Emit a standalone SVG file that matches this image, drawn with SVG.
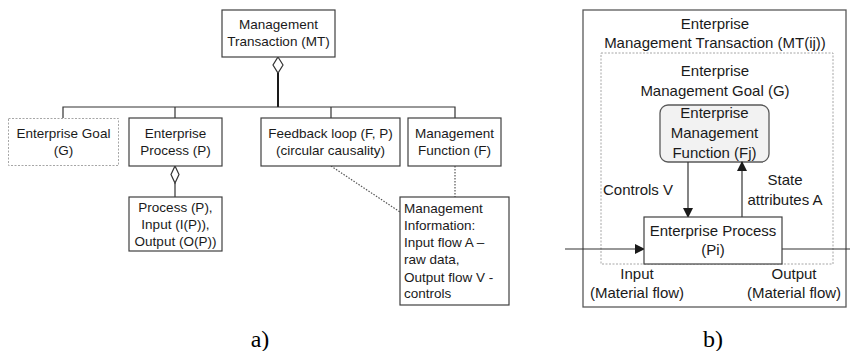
<svg xmlns="http://www.w3.org/2000/svg" width="850" height="351" viewBox="0 0 850 351">
  <style>
    .box { fill: #ffffff; stroke: #404040; stroke-width: 1.2; }
    .ghost { fill: #ffffff; stroke: #a6a6a6; stroke-width: 1; stroke-dasharray: 2 1.5; }
    .t { font-family: "Liberation Sans", Arial, sans-serif; font-size: 13.5px; fill: #1a1a1a; }
    .tb { font-family: "Liberation Sans", Arial, sans-serif; font-size: 15px; fill: #1a1a1a; }
    .c { text-anchor: middle; }
    .cap { font-family: "Liberation Serif", "Times New Roman", serif; font-size: 24px; fill: #000; text-anchor: middle; }
    .ln { fill: none; stroke: #333; stroke-width: 1.2; }
    .dot { fill: none; stroke: #555; stroke-width: 1.2; stroke-dasharray: 1.5 1.5; }
    .dia { fill: #ffffff; stroke: #333; stroke-width: 1.2; }
  </style>
  <defs>
    <marker id="arrow" markerWidth="10" markerHeight="10" refX="9" refY="5" orient="auto" markerUnits="userSpaceOnUse">
      <path d="M0,0 L10,5 L0,10 Z" fill="#1a1a1a"/>
    </marker>
  </defs>

  <!-- a) composition of a management transaction -->
  <g id="connectors-a">
    <polygon class="dia" points="278,57 283,65 278,73 273,65"/>
    <line x1="278" y1="73" x2="278" y2="107" stroke="#1a1a1a" stroke-width="2"/>
    <polyline class="ln" points="63,118 63,107 455,107 455,118"/>
    <line class="ln" x1="175" y1="107" x2="175" y2="118"/>
    <line class="ln" x1="331" y1="107" x2="331" y2="118"/>
    <polygon class="dia" points="175,166 179,174.5 175,183 171,174.5"/>
    <line class="ln" x1="175" y1="183" x2="175" y2="197"/>
    <line class="dot" x1="331" y1="166" x2="400" y2="212"/>
    <line class="dot" x1="455" y1="166" x2="455" y2="197"/>
  </g>

  <g id="mt">
    <rect class="box" x="222" y="10" width="113" height="47"/>
    <text class="t c" x="278.5" y="29">Management</text>
    <text class="t c" x="278.5" y="46">Transaction (MT)</text>
  </g>

  <g id="goal">
    <rect class="ghost" x="8.5" y="118.5" width="110" height="47"/>
    <text class="t c" x="63.5" y="138">Enterprise Goal</text>
    <text class="t c" x="63.5" y="155">(G)</text>
  </g>

  <g id="process">
    <rect class="box" x="129" y="118" width="93" height="48"/>
    <text class="t c" x="175.5" y="138">Enterprise</text>
    <text class="t c" x="175.5" y="155">Process (P)</text>
  </g>

  <g id="feedback">
    <rect class="box" x="261" y="118" width="139" height="48"/>
    <text class="t c" x="330.5" y="138">Feedback loop (F, P)</text>
    <text class="t c" x="330.5" y="155">(circular causality)</text>
  </g>

  <g id="function">
    <rect class="box" x="408" y="118" width="93" height="48"/>
    <text class="t c" x="454.5" y="138">Management</text>
    <text class="t c" x="454.5" y="155">Function (F)</text>
  </g>

  <g id="process-io">
    <rect class="box" x="129" y="197" width="93" height="54"/>
    <text class="t c" x="175.5" y="212">Process (P),</text>
    <text class="t c" x="175.5" y="229">Input (I(P)),</text>
    <text class="t c" x="175.5" y="246">Output (O(P))</text>
  </g>

  <g id="information">
    <rect class="box" x="400" y="197" width="109" height="108"/>
    <text class="t" x="404" y="213">Management</text>
    <text class="t" x="404" y="230">Information:</text>
    <text class="t" x="404" y="247">Input flow A –</text>
    <text class="t" x="404" y="264">raw data,</text>
    <text class="t" x="404" y="282">Output flow V -</text>
    <text class="t" x="404" y="298">controls</text>
  </g>

  <text class="cap" x="260" y="347">a)</text>

  <!-- b) enterprise management transaction -->
  <g id="transaction">
    <rect x="583" y="10" width="263" height="297" fill="#ffffff" stroke="#595959" stroke-width="1.3"/>
    <text class="tb c" x="715" y="29">Enterprise</text>
    <text class="tb c" x="715" y="48">Management Transaction (MT(ij))</text>
  </g>

  <g id="mgmt-goal">
    <rect x="601" y="53" width="232" height="211" fill="none" stroke="#a6a6a6" stroke-width="1" stroke-dasharray="2 1.5"/>
    <text class="tb c" x="715" y="76">Enterprise</text>
    <text class="tb c" x="715" y="96">Management Goal (G)</text>
  </g>

  <g id="mgmt-function">
    <rect x="660" y="105" width="109" height="57" rx="8" ry="8" fill="#f2f2f2" stroke="#595959" stroke-width="1.3"/>
    <text class="tb c" x="714.5" y="118">Enterprise</text>
    <text class="tb c" x="714.5" y="138">Management</text>
    <text class="tb c" x="714.5" y="158">Function (Fj)</text>
  </g>

  <g id="connectors-b">
    <line class="ln" x1="688" y1="162" x2="688" y2="217" marker-end="url(#arrow)"/>
    <line class="ln" x1="742" y1="217" x2="742" y2="162" marker-end="url(#arrow)"/>
    <line class="ln" x1="565" y1="249" x2="644" y2="249" marker-end="url(#arrow)"/>
    <line class="ln" x1="782" y1="249" x2="850" y2="249"/>
  </g>

  <g id="enterprise-process">
    <rect class="box" x="644" y="217" width="138" height="47"/>
    <text class="tb c" x="713" y="236">Enterprise Process</text>
    <text class="tb c" x="713" y="255">(Pi)</text>
  </g>

  <g id="labels-b">
    <text class="tb" x="603" y="195">Controls V</text>
    <text class="tb c" x="785" y="185">State</text>
    <text class="tb c" x="785" y="205">attributes A</text>
    <text class="tb c" x="637" y="279">Input</text>
    <text class="tb c" x="637" y="298">(Material flow)</text>
    <text class="tb c" x="794" y="279">Output</text>
    <text class="tb c" x="794" y="298">(Material flow)</text>
  </g>

  <text class="cap" x="713" y="347">b)</text>
</svg>
